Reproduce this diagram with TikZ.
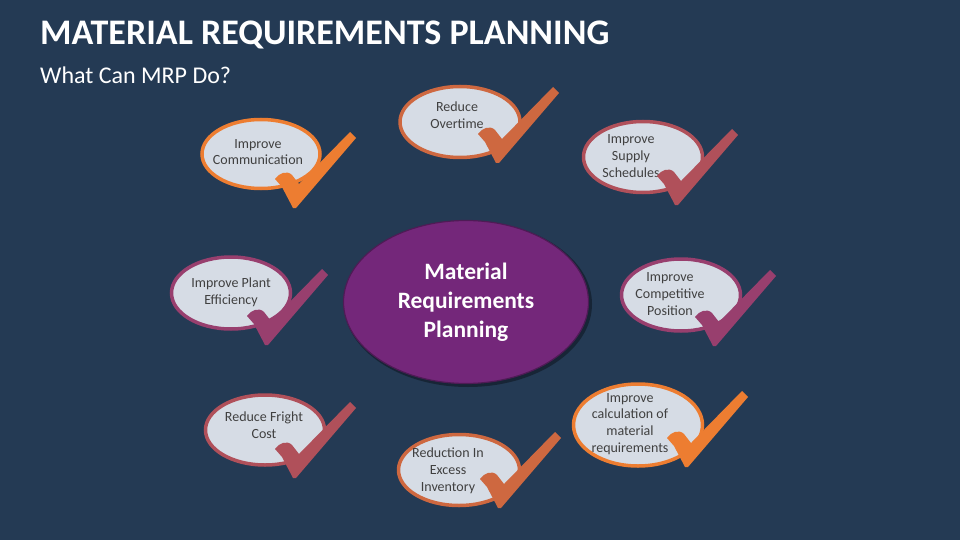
\documentclass[tikz,border=0pt]{standalone}
\usepackage{fontspec}
\setmainfont{Carlito}
\usetikzlibrary{shapes.geometric}
\definecolor{bg}{HTML}{243A54}
\definecolor{cOr}{HTML}{ED7D31}
\definecolor{cRust}{HTML}{CE6840}
\definecolor{cRose}{HTML}{B0505A}
\definecolor{cMauve}{HTML}{983F6E}
\definecolor{efill}{HTML}{D6DCE5}
\definecolor{etext}{HTML}{404040}
\definecolor{cpurple}{HTML}{74277A}
\definecolor{cpurpledark}{HTML}{4E1B55}
\tikzset{
  bubble/.style={ellipse, draw=#1, line width=3.5pt, fill=efill, inner sep=0pt},
  btext/.style={align=center, font=\fontsize{14}{16.8}\selectfont, text=etext, inner sep=0pt},
  pics/tick/.style={code={\fill[#1] (-20,-29) .. controls (-16,-35) and (-8,-38) .. (-3,-33) -- (4,-24) -- (55,-76) -- (61,-70) -- (1,0) -- (-2,0) -- (-13,-21) .. controls (-16,-25) .. cycle;}}
}
\begin{document}
\begin{tikzpicture}[x=1pt,y=-1pt]
\useasboundingbox (0,0) rectangle (960,540);
\fill[bg] (0,0) rectangle (960,540);
% title
\node[anchor=base west, inner sep=0pt, text=white, font=\bfseries\fontsize{36}{40}\selectfont] (title) at (40,45) {MATERIAL REQUIREMENTS PLANNING};
\node[anchor=base west, inner sep=0pt, text=white, font=\fontsize{24}{27}\selectfont] (sub) at (40,84) {What Can MRP Do?};
% center
\node[ellipse, fill=black, opacity=0.35, minimum width=248, minimum height=166, inner sep=0pt] (cs) at (468,304) {};
\node[ellipse, fill=cpurple, draw=cpurpledark, line width=1.2pt, minimum width=245, minimum height=163, inner sep=0pt] (c) at (466,302) {};
\node[text=white, font=\bfseries\fontsize{23.5}{29}\selectfont, align=center, inner sep=0pt] (ct) at (466,302) {Material\\Requirements\\Planning};
% 1 communication
\node[bubble=cOr, minimum width=118, minimum height=69] (e1) at (261,154) {};
\node[btext] (t1) at (258,152) {Improve\\Communication};
\pic at (295,208) {tick=cOr};
% 2 overtime
\node[bubble=cRust, minimum width=120, minimum height=71] (e2) at (460,122) {};
\node[btext] (t2) at (457,115) {Reduce\\Overtime};
\pic at (498,163) {tick=cRust};
% 3 supply
\node[bubble=cRose, minimum width=119, minimum height=71] (e3) at (643,157) {};
\node[btext] (t3) at (631,156) {Improve\\Supply\\Schedules};
\pic at (677,205) {tick=cRose};
% 4 plant
\node[bubble=cMauve, minimum width=119, minimum height=72] (e4) at (231,293) {};
\node[btext] (t4) at (231,292) {Improve Plant\\Efficiency};
\pic at (267,345) {tick=cMauve};
% 5 competitive
\node[bubble=cMauve, minimum width=119, minimum height=72] (e5) at (681,295) {};
\node[btext] (t5) at (670,294) {Improve\\Competitive\\Position};
\pic at (715,346) {tick=cMauve};
% 6 fright
\node[bubble=cRose, minimum width=119, minimum height=70] (e6) at (265,430) {};
\node[btext] (t6) at (264,425) {Reduce Fright\\Cost};
\pic at (295,478) {tick=cRose};
% 7 reduction
\node[bubble=cRust, minimum width=121, minimum height=71] (e7) at (459,470) {};
\node[btext] (t7) at (448,471) {Reduction In\\Excess\\Inventory};
\pic at (500,508) {tick=cRust};
% 8 calculation
\node[bubble=cOr, minimum width=129, minimum height=82] (e8) at (638,425) {};
\node[btext] (t8) at (630,424) {Improve\\calculation of\\material\\requirements};
\pic at (687,467) {tick=cOr};
\end{tikzpicture}
\end{document}
